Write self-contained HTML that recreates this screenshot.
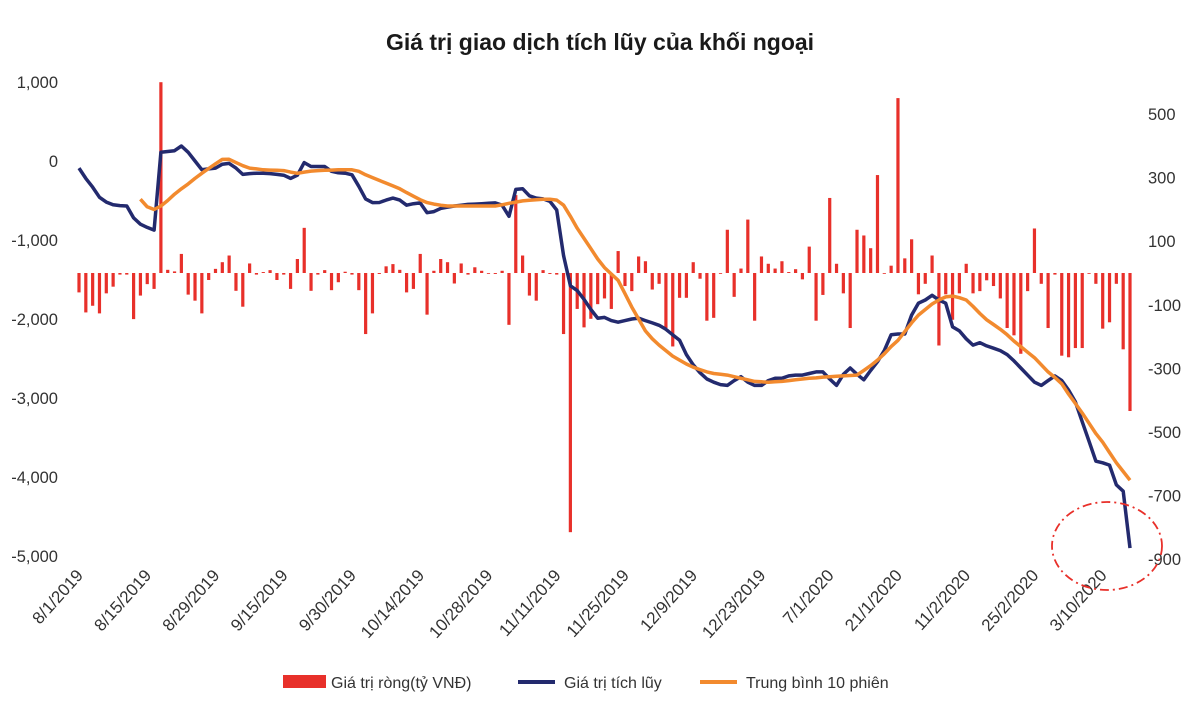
<!DOCTYPE html>
<html><head><meta charset="utf-8">
<style>
html,body{margin:0;padding:0;background:#fff;}
svg{display:block;font-family:"Liberation Sans","DejaVu Sans",sans-serif;}
</style></head>
<body>
<svg id="chart" width="1200" height="711" viewBox="0 0 1200 711" xmlns="http://www.w3.org/2000/svg">
<rect width="1200" height="711" fill="#fff"/>
<text x="600" y="50" text-anchor="middle" font-size="23" font-weight="bold" fill="#1a1a1a">Giá trị giao dịch tích lũy của khối ngoại</text>
<g id="bars"></g>
<g id="lines"></g>
<g id="axes"></g>
<ellipse cx="1107" cy="546" rx="55" ry="44" fill="none" stroke="#e8302a" stroke-width="1.8" stroke-dasharray="9,4,2,4"/>
<g>
<g><rect x="283" y="675" width="43" height="13" fill="#e8302a"/><text x="331" y="688" font-size="16" fill="#333">Giá trị ròng(tỷ VNĐ)</text></g>
<g><line x1="518" y1="682" x2="555" y2="682" stroke="#232a6e" stroke-width="4"/><text x="564" y="688" font-size="16" fill="#333">Giá trị tích lũy</text></g>
<g><line x1="700" y1="682" x2="737" y2="682" stroke="#f28a2e" stroke-width="4"/><text x="746" y="688" font-size="16" fill="#333">Trung bình 10 phiên</text></g>
</g>
</svg>
<script>
const netValues = [-61,-124,-103,-127,-64,-43,-5,-5,-145,-71,-35,-50,600,10,5,60,-68,-87,-127,-22,13,34,55,-56,-106,30,-5,3,9,-22,-5,-50,44,142,-56,-5,9,-54,-29,4,-5,-54,-192,-127,-3,21,28,10,-61,-50,60,-131,7,44,34,-33,30,-5,18,7,0,-3,7,-163,245,55,-71,-87,9,-3,-5,-192,-815,-113,-171,
-144,-98,-80,-113,69,-41,-57,52,37,-52,-34,-173,-231,-78,-78,34,-18,-150,-141,-2,136,-75,14,168,-150,52,29,14,37,3,12,-20,83,-150,-69,236,29,-64,-173,136,118,78,308,-2,23,550,46,106,-67,-34,55,-228,-67,-147,-64,29,-64,-57,-23,-41,-80,-173,-196,-254,-57,140,-34,-173,-5,-260,-265,-236,-236,-2,-34,-175,-155,-34,-240,-434];
const cumulative = [-90,-220,-330,-460,-520,-555,-565,-570,-720,-800,-840,-875,110,120,130,190,110,0,-110,-100,-90,-40,-30,-90,-170,-160,-155,-155,-160,-170,-180,-220,-180,-20,-70,-70,-70,-130,-150,-155,-175,-320,-480,-527,-525,-495,-470,-495,-560,-540,-530,-655,-640,-600,-585,-570,-560,-550,-545,-540,-535,-530,-560,-700,-360,-350,-440,-470,-480,-510,-620,-1200,-1580,-1640,-1750,-1880,-1990,
-1980,-2020,-2040,-2020,-2000,-1990,-2020,-2050,-2080,-2130,-2200,-2270,-2450,-2580,-2680,-2760,-2800,-2830,-2840,-2780,-2730,-2800,-2840,-2840,-2780,-2750,-2750,-2720,-2710,-2710,-2690,-2670,-2670,-2760,-2840,-2700,-2620,-2700,-2770,-2650,-2540,-2400,-2200,-2190,-2190,-1950,-1800,-1760,-1700,-1760,-1800,-2100,-2150,-2250,-2330,-2300,-2340,-2370,-2400,-2450,-2530,-2620,-2710,-2800,-2840,-2780,-2720,-2780,-2900,-3050,-3300,-3550,-3800,-3820,-3850,-4100,-4180,-4900];
const movingAvg10 = [null,null,null,null,null,null,null,null,null,-483,-580,-614,-570,-500,-420,-352,-290,-220,-156,-95,-35,20,22,-20,-60,-90,-100,-112,-115,-118,-121,-140,-156,-140,-128,-121,-118,-115,-112,-112,-112,-130,-175,-210,-245,-280,-315,-352,-400,-445,-490,-527,-545,-560,-570,-570,-570,-570,-570,-570,-570,-570,-555,-535,-520,-505,-496,-490,-485,-483,-495,-560,-700,-850,-980,-1110,-1240,-1350,-1430,-1510,-1680,-1850,-2000,-2150,-2250,-2330,-2400,-2470,-2520,-2570,-2610,-2640,-2670,-2690,-2700,-2710,-2730,-2750,-2770,-2790,-2795,-2800,-2795,-2790,-2780,-2770,-2760,-2750,-2745,-2735,-2730,-2725,-2720,-2715,-2710,-2650,-2590,-2520,-2440,-2350,-2270,-2160,-2050,-1950,-1880,-1810,-1760,-1720,-1710,-1730,-1760,-1840,-1930,-2010,-2070,-2130,-2200,-2280,-2350,-2420,-2490,-2580,-2670,-2740,-2820,-2950,-3070,-3190,-3320,-3450,-3560,-3690,-3820,-3930,-4040];
const dateLabels = ["8/1/2019","8/15/2019","8/29/2019","9/15/2019","9/30/2019","10/14/2019","10/28/2019","11/11/2019","11/25/2019","12/9/2019","12/23/2019","7/1/2020","21/1/2020","11/2/2020","25/2/2020","3/10/2020"];
const leftTicks = [1000,0,-1000,-2000,-3000,-4000,-5000];
const leftTickLabels = ["1,000","0","-1,000","-2,000","-3,000","-4,000","-5,000"];
const rightTicks = [500,300,100,-100,-300,-500,-700,-900];

const NS="http://www.w3.org/2000/svg";
const N = netValues.length;
const x0=79, x1=1130;
function xPos(i){return x0+(x1-x0)*i/(N-1);}
function yLeft(v){return 161 - v*0.0790;}
function yRight(v){return 273 - v*0.318;}
function mk(tag,attrs,parent){const e=document.createElementNS(NS,tag);for(const k in attrs)e.setAttribute(k,attrs[k]);parent.appendChild(e);return e;}

const barsG=document.getElementById('bars');
netValues.forEach((v,i)=>{
  const y0=yRight(0), y=yRight(v);
  const r=mk('rect',{x:xPos(i)-1.6,y:Math.min(y,y0),width:3.2,height:Math.max(Math.abs(y-y0),0.8),fill:'#e8302a'},barsG);
  
  
});

const linesG=document.getElementById('lines');
function linePath(arr){let d='';let started=false;arr.forEach((v,i)=>{if(v===null)return;d+=(started?'L':'M')+xPos(i).toFixed(1)+' '+yLeft(v).toFixed(1)+' ';started=true;});return d;}
const cl=mk('path',{d:linePath(cumulative),fill:'none',stroke:'#232a6e','stroke-width':3.5,'stroke-linejoin':'round'},linesG);


const ml=mk('path',{d:linePath(movingAvg10),fill:'none',stroke:'#f28a2e','stroke-width':3.5,'stroke-linejoin':'round'},linesG);



const axesG=document.getElementById('axes');
leftTicks.forEach((v,k)=>{
  const t=mk('text',{x:58,y:yLeft(v)+6,'text-anchor':'end','font-size':16.5,fill:'#333'},axesG);
  t.textContent=leftTickLabels[k];
  
  
});
rightTicks.forEach(v=>{
  const t=mk('text',{x:1148,y:yRight(v)+6,'text-anchor':'start','font-size':16.5,fill:'#333'},axesG);
  t.textContent=String(v);
  
  
});
dateLabels.forEach((s,k)=>{
  const xx=xPos(k*10)+5, yy=576;
  const t=mk('text',{x:xx,y:yy,'text-anchor':'end','font-size':17,fill:'#333',transform:'rotate(-48 '+xx+' '+yy+')'},axesG);
  t.textContent=s;
  
  
});
</script>
</body></html>
